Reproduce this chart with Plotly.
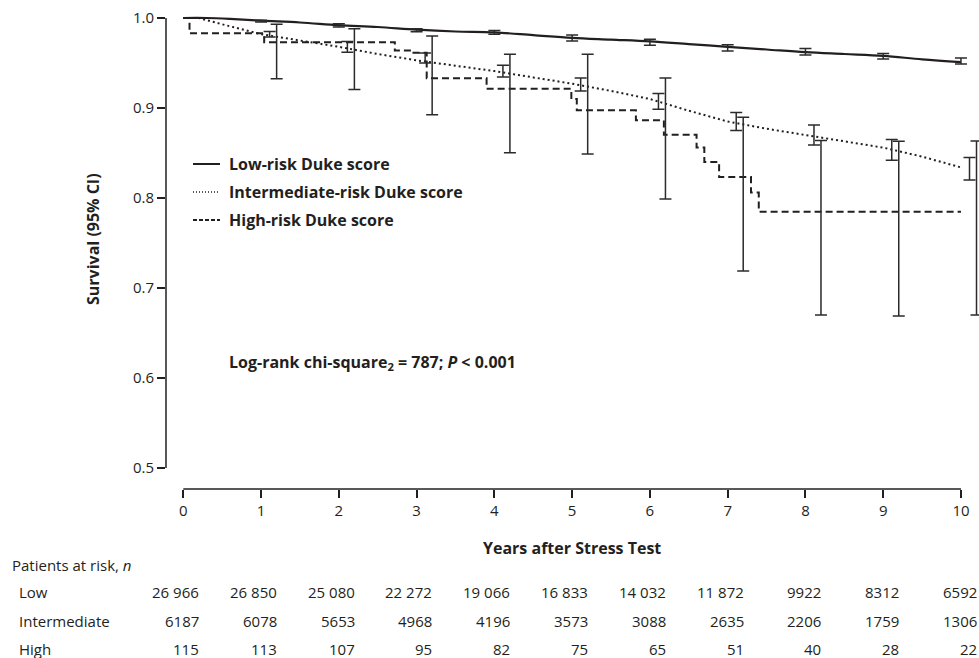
import plotly.graph_objects as go

# ---------------- data ----------------
years = [0, 1, 2, 3, 4, 5, 6, 7, 8, 9, 10]

low_t = [0, 0.3, 0.6, 1, 1.5, 2, 2.5, 3, 3.5, 4, 4.5, 5, 5.5, 6, 6.5, 7, 7.5, 8, 8.5, 9, 9.5, 10]
low_s = [1.0, 1.0, 0.999, 0.997, 0.995, 0.992, 0.990, 0.987, 0.985, 0.984, 0.981, 0.978,
         0.976, 0.974, 0.971, 0.968, 0.965, 0.962, 0.960, 0.958, 0.954, 0.951]

inter_t = [0, 0.2, 0.5, 1, 1.5, 2, 2.5, 3, 3.5, 4, 4.5, 5, 5.5, 6, 6.5, 7, 7.5, 8, 8.5, 9, 9.5, 10]
inter_s = [1.0, 1.0, 0.993, 0.982, 0.975, 0.968, 0.960, 0.953, 0.947, 0.941, 0.934, 0.927,
           0.919, 0.910, 0.897, 0.885, 0.877, 0.870, 0.863, 0.856, 0.846, 0.834]

high_t = [0, 0.08, 1.04, 2.72, 2.96, 3.13, 3.9, 4.99, 5.06, 5.82, 6.18, 6.6, 6.7, 6.89, 7.3, 7.4, 10.0]
high_s = [1.0, 0.983, 0.973, 0.964, 0.9615, 0.933, 0.9215, 0.910, 0.8974, 0.8863, 0.8704,
          0.856, 0.840, 0.8233, 0.806, 0.7848, 0.7848]

ci_years = [1, 2, 3, 4, 5, 6, 7, 8, 9, 10]
low_lo = [0.9955, 0.990, 0.9848, 0.982, 0.9744, 0.9697, 0.9633, 0.959, 0.9544, 0.9489]
low_hi = [0.9975, 0.9935, 0.988, 0.986, 0.981, 0.9763, 0.9704, 0.966, 0.9607, 0.9556]
inter_lo = [0.979, 0.962, 0.950, 0.9344, 0.919, 0.8985, 0.875, 0.859, 0.842, 0.820]
inter_hi = [0.985, 0.974, 0.961, 0.9474, 0.9333, 0.916, 0.895, 0.881, 0.865, 0.845]
high_lo = [0.9326, 0.9207, 0.8926, 0.8504, 0.849, 0.799, 0.719, 0.670, 0.669, 0.670]
high_hi = [0.993, 0.988, 0.980, 0.9596, 0.9596, 0.9333, 0.8897, 0.864, 0.863, 0.8633]

series_names = ["Low-risk Duke score", "Intermediate-risk Duke score", "High-risk Duke score"]
risk_groups = ["Low", "Intermediate", "High"]
risk_low = ["26 966", "26 850", "25 080", "22 272", "19 066", "16 833", "14 032", "11 872", "9922", "8312", "6592"]
risk_inter = ["6187", "6078", "5653", "4968", "4196", "3573", "3088", "2635", "2206", "1759", "1306"]
risk_high = ["115", "113", "107", "95", "82", "75", "65", "51", "40", "28", "22"]

y_ticks = [0.5, 0.6, 0.7, 0.8, 0.9, 1.0]

# ---------------- style / layout constants ----------------
W, H = 979, 658
ML, MR, MT, MB = 166, 0, 10, 169
PW, PH = W - ML - MR, H - MT - MB
INK = "#231f20"
FONT = "Open Sans"
X_RANGE = [-0.2225, 10.232]
Y_RANGE = [0.4767, 1.0089]
INTER_OFF, HIGH_OFF = 0.11, 0.2


def px_x(p):
    return (p - ML) / PW


def px_y(p):
    return (H - MB - p) / PH


fig = go.Figure()

line_styles = [dict(color=INK, width=2.2),
               dict(color=INK, width=2, dash="2px,3px"),
               dict(color=INK, width=2, dash="7px,4px")]

fig.add_trace(go.Scatter(x=low_t, y=low_s, mode="lines", line=line_styles[0],
                         name=series_names[0], line_shape="spline", showlegend=False))
fig.add_trace(go.Scatter(x=inter_t, y=inter_s, mode="lines", line=line_styles[1],
                         name=series_names[1], showlegend=False))
fig.add_trace(go.Scatter(x=high_t, y=high_s, mode="lines", line=line_styles[2],
                         name=series_names[2], line_shape="hv", showlegend=False))


def add_ci(xs, lo, hi, name):
    mid = [(a + b) / 2 for a, b in zip(lo, hi)]
    fig.add_trace(go.Scatter(
        x=xs, y=mid, mode="markers",
        marker=dict(size=1, color="rgba(0,0,0,0)"),
        error_y=dict(type="data", symmetric=False,
                     array=[h - m for h, m in zip(hi, mid)],
                     arrayminus=[m - l for m, l in zip(mid, lo)],
                     color="#2b2b2b", thickness=1.5, width=6),
        name=name, showlegend=False, hoverinfo="skip"))


add_ci(ci_years, low_lo, low_hi, series_names[0] + " CI")
add_ci([y + INTER_OFF for y in ci_years], inter_lo, inter_hi, series_names[1] + " CI")
add_ci([y + HIGH_OFF for y in ci_years], high_lo, high_hi, series_names[2] + " CI")

shapes = []
# custom axis lines
shapes.append(dict(type="line", xref="paper", yref="y", x0=0, x1=0, y0=0.5, y1=1.0,
                   line=dict(color=INK, width=1.5)))
shapes.append(dict(type="line", xref="x", yref="paper", x0=0, x1=10, y0=0, y1=0,
                   line=dict(color=INK, width=1.5)))

annotations = []
# legend
leg_y = [164, 192, 220]
leg_dash = ["solid", "1px,2px", "4px,2px"]
leg_w = [2, 1.5, 2]
for i, nm in enumerate(series_names):
    shapes.append(dict(type="line", xref="paper", yref="paper",
                       x0=px_x(193), x1=px_x(220), y0=px_y(leg_y[i]), y1=px_y(leg_y[i]),
                       line=dict(color=INK, width=leg_w[i], dash=leg_dash[i])))
    annotations.append(dict(text=f"<b>{nm}</b>", xref="paper", yref="paper",
                            x=px_x(227), y=px_y(leg_y[i]), xanchor="left", yanchor="middle",
                            showarrow=False, font=dict(size=16, color=INK, family=FONT)))

annotations.append(dict(text="<b>Log-rank chi-square<sub>2</sub> = 787; <i>P</i> &lt; 0.001</b>",
                        xref="paper", yref="paper", x=px_x(227), y=px_y(362),
                        xanchor="left", yanchor="middle", showarrow=False,
                        font=dict(size=16, color=INK, family=FONT)))

annotations.append(dict(text="<b>Survival (95% CI)</b>", xref="paper", yref="paper",
                        x=px_x(93), y=px_y(239), textangle=-90, xanchor="center",
                        yanchor="middle", showarrow=False,
                        font=dict(size=16, color=INK, family=FONT)))
annotations.append(dict(text="<b>Years after Stress Test</b>", xref="x", yref="paper",
                        x=5, y=px_y(548), xanchor="center", yanchor="middle", showarrow=False,
                        font=dict(size=16, color=INK, family=FONT)))

annotations.append(dict(text="Patients at risk, <i>n</i>", xref="paper", yref="paper",
                        x=px_x(10), y=px_y(565), xanchor="left", yanchor="middle",
                        showarrow=False, font=dict(size=15, color=INK, family=FONT)))
row_y = [592, 621, 649]
for grp, vals, ry in zip(risk_groups, [risk_low, risk_inter, risk_high], row_y):
    annotations.append(dict(text=grp, xref="paper", yref="paper", x=px_x(17), y=px_y(ry),
                            xanchor="left", yanchor="middle", showarrow=False,
                            font=dict(size=15, color=INK, family=FONT)))
    for yr, v in zip(years, vals):
        annotations.append(dict(text=v, xref="x", yref="paper", x=yr + 0.23, y=px_y(ry),
                                xanchor="right", yanchor="middle", showarrow=False,
                                font=dict(size=15, color=INK, family=FONT)))

fig.update_layout(
    width=W, height=H,
    margin=dict(l=ML, r=MR, t=MT, b=MB, pad=0),
    paper_bgcolor="white", plot_bgcolor="white",
    showlegend=False,
    font=dict(family=FONT, color=INK, size=15),
    xaxis=dict(range=X_RANGE, tickmode="array", tickvals=years, ticktext=[str(y) for y in years],
               ticks="outside", ticklen=8, tickwidth=1.5, tickcolor=INK,
               showline=False, showgrid=False, zeroline=False,
               tickfont=dict(size=15, color=INK, family=FONT)),
    yaxis=dict(range=Y_RANGE, tickmode="array", tickvals=y_ticks,
               ticktext=[f"{v:.1f}" for v in y_ticks],
               ticks="outside", ticklen=8, tickwidth=1.5, tickcolor=INK,
               showline=False, showgrid=False, zeroline=False,
               tickfont=dict(size=15, color=INK, family=FONT)),
    shapes=shapes, annotations=annotations,
)

fig.write_html("out.html")
